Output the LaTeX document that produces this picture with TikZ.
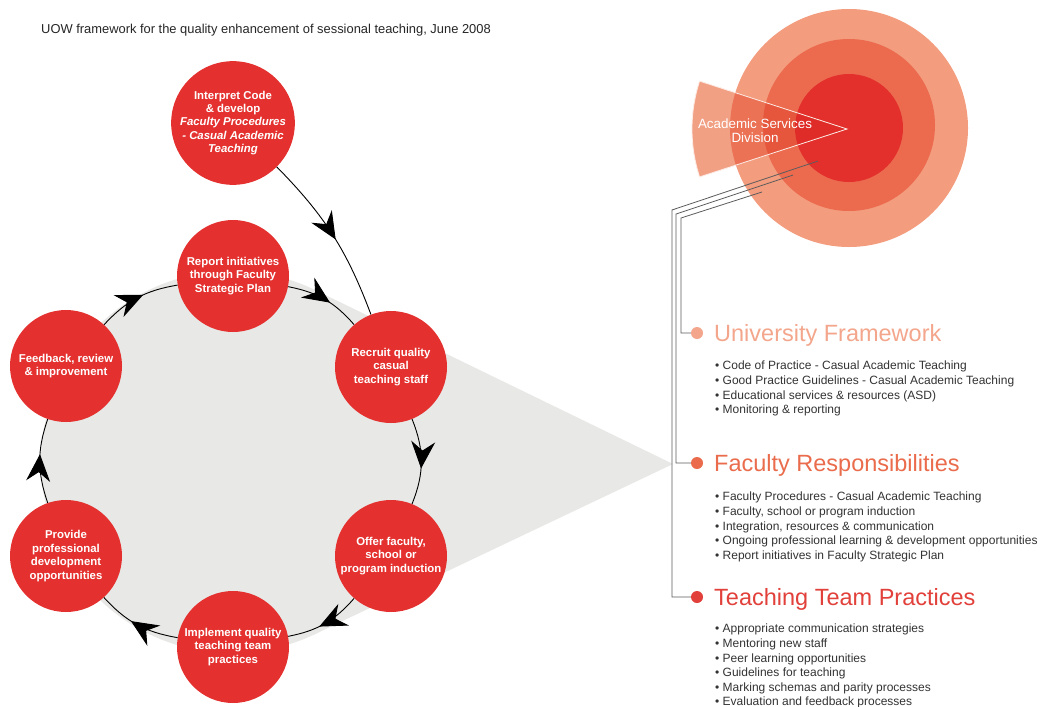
\documentclass[tikz,border=0pt]{standalone}
\usepackage{fontspec}
\setmainfont{Liberation Sans}
\usetikzlibrary{arrows.meta,decorations.markings}

\definecolor{stagered}{HTML}{E4312F}
\definecolor{cyclegrey}{HTML}{E8E8E6}
\definecolor{outerband}{HTML}{F39C7E}
\definecolor{midband}{HTML}{EC6A4E}
\definecolor{innerband}{HTML}{E3302C}
\definecolor{wedgewhite}{HTML}{F2A084}
\definecolor{wedgeouter}{HTML}{EC7256}
\definecolor{wedgemid}{HTML}{E5563C}
\definecolor{wedgeinner}{HTML}{E02C29}
\definecolor{unicol}{HTML}{F4A68C}
\definecolor{faccol}{HTML}{EA6C4C}
\definecolor{teamcol}{HTML}{E2403A}
\definecolor{wirecol}{HTML}{5C5C5C}

\tikzset{
  stage/.style={circle, fill=stagered, minimum size=112pt, inner sep=0pt, text=white,
    align=center, font=\fontsize{11.4}{13.4}\selectfont\bfseries},
  flow/.style={black, line width=0.9pt, postaction={decorate},
    decoration={markings, mark=at position #1 with {\arrow{Stealth[length=27pt,width=24pt,inset=9pt]}}}},
  flow/.default=0.58,
  markdot/.style={circle, minimum size=12pt, inner sep=0pt, fill=#1},
  heading/.style={anchor=base west, inner sep=0pt, text=#1, font=\fontsize{23.5}{26}\selectfont},
  pointlist/.style={anchor=north west, inner sep=0pt, align=left, text=black!80,
    font=\fontsize{12}{14.6}\selectfont},
  wire/.style={wirecol, line width=0.8pt},
}

\begin{document}
\begin{tikzpicture}[x=1pt, y=-1pt]
\useasboundingbox[fill=white] (0,0) rectangle (1042,707);

\node[anchor=base west, inner sep=0pt, text=black!85, font=\fontsize{12.9}{15}\selectfont] (title) at (41,33)
  {UOW framework for the quality enhancement of sessional teaching, June 2008};

% grey cycle and its funnel
\coordinate (hub) at (232,462);
\coordinate (apex) at (673,464);
\coordinate (tanup) at (313,289);
\coordinate (tandown) at (313,635);
\fill[cyclegrey] (hub) circle (191);
\fill[cyclegrey] (apex) -- (tanup) -- (hub) -- (tandown) -- cycle;

% the faculty cycle
\node[stage] (interpret) at (233,123) {Interpret Code\\\& develop\\\textit{Faculty Procedures}\\\textit{- Casual Academic}\\\textit{Teaching}};
\node[stage] (report) at (233,276) {Report initiatives\\through Faculty\\Strategic Plan};
\node[stage] (recruit) at (391,367) {Recruit quality\\casual\\teaching staff};
\node[stage] (offer) at (391,556) {Offer faculty,\\school or\\program induction};
\node[stage] (implement) at (233,647) {Implement quality\\teaching team\\practices};
\node[stage] (provide) at (66,556) {Provide\\professional\\development\\opportunities};
\node[stage] (feedback) at (66,366) {Feedback, review\\\& improvement};

\draw[flow=0.53] (interpret) to[bend left=12] (recruit);
\draw[flow] (feedback) to[bend left=19] (report);
\draw[flow] (report) to[bend left=19] (recruit);
\draw[flow] (recruit) to[bend left=22] (offer);
\draw[flow] (offer) to[bend left=19] (implement);
\draw[flow] (implement) to[bend left=19] (provide);
\draw[flow] (provide) to[bend left=19] (feedback);

% Academic Services Division target
\coordinate (bull) at (849,128);
\coordinate (tip) at (847,129);
\fill[outerband] (bull) circle (119);
\fill[midband] (bull) ++(0,-3) circle (86);
\fill[innerband] (bull) circle (54);
\begin{scope}
  \clip (tip) -- ++(162:155) arc[start angle=162, end angle=198, radius=155] -- cycle;
  \fill[wedgewhite] (tip) ++(-200,-100) rectangle ++(300,200);
  \fill[wedgeouter] (bull) circle (119);
  \fill[wedgemid] (bull) ++(0,-3) circle (86);
  \fill[wedgeinner] (bull) circle (54);
\end{scope}
\draw[white!80!outerband, line width=0.8pt] (tip) -- ++(162:155) arc[start angle=162, end angle=198, radius=155] -- cycle;
\node[text=white, align=center, font=\fontsize{13.4}{14}\selectfont] (asd) at (755,131) {Academic Services\\Division};

% wires down to the three levels
\node[markdot=unicol] (unidot) at (697,333) {};
\node[markdot=faccol] (facdot) at (697,463) {};
\node[markdot=teamcol] (teamdot) at (697,597) {};
\coordinate (s1) at (818,161);
\coordinate (c1) at (672,210);
\coordinate (s2) at (793,175);
\coordinate (c2) at (676,214);
\coordinate (s3) at (762,192);
\coordinate (c3) at (681,218);
\draw[wire] (s1) -- (c1) |- (teamdot);
\draw[wire] (s2) -- (c2) |- (facdot);
\draw[wire] (s3) -- (c3) |- (unidot);

\node[heading=unicol] (unihead) at (714,341) {University Framework};
\node[heading=faccol] (fachead) at (714,471) {Faculty Responsibilities};
\node[heading=teamcol] (teamhead) at (714,605) {Teaching Team Practices};

\node[pointlist] (unilist) at (715,361) {\textbullet\ Code of Practice - Casual Academic Teaching\\
  \textbullet\ Good Practice Guidelines - Casual Academic Teaching\\
  \textbullet\ Educational services \& resources (ASD)\\
  \textbullet\ Monitoring \& reporting};
\node[pointlist] (faclist) at (715,492) {\textbullet\ Faculty Procedures - Casual Academic Teaching\\
  \textbullet\ Faculty, school or program induction\\
  \textbullet\ Integration, resources \& communication\\
  \textbullet\ Ongoing professional learning \& development opportunities\\
  \textbullet\ Report initiatives in Faculty Strategic Plan};
\node[pointlist] (teamlist) at (715,624) {\textbullet\ Appropriate communication strategies\\
  \textbullet\ Mentoring new staff\\
  \textbullet\ Peer learning opportunities\\
  \textbullet\ Guidelines for teaching\\
  \textbullet\ Marking schemas and parity processes\\
  \textbullet\ Evaluation and feedback processes};
\end{tikzpicture}
\end{document}
